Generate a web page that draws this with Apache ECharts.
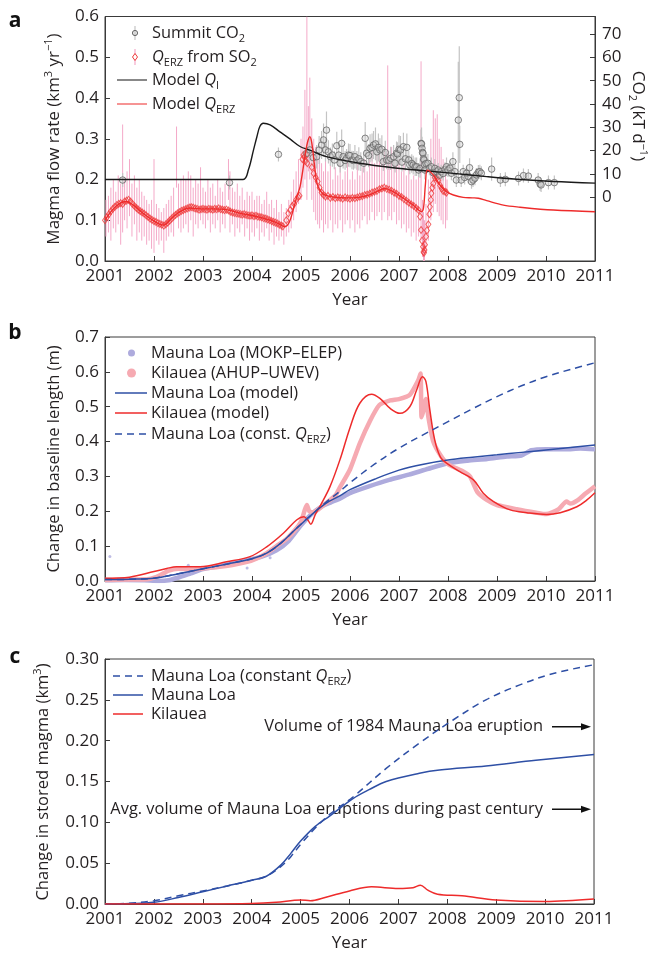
<!DOCTYPE html>
<html><head><meta charset="utf-8">
<script src="https://cdn.jsdelivr.net/npm/echarts@6/dist/echarts.min.js"></script>
<style>html,body{margin:0;padding:0;background:#fff}#c{width:654px;height:953px}</style>
</head><body><div id="c"></div><script>
// ---------- DATA ----------
const years = [2001,2002,2003,2004,2005,2006,2007,2008,2009,2010,2011];
const co2Ticks = [0,10,20,30,40,50,60,70];
// Panel a: model Q_I and Q_ERZ (km3/yr)
const modelQI = [[2001,0.2],[2003.82,0.2],[2003.93,0.225],[2004.03,0.272],[2004.1,0.305],[2004.16,0.33],[2004.23,0.338],[2004.37,0.334],[2004.57,0.317],[2004.78,0.299],[2004.98,0.281],[2005.18,0.272],[2005.52,0.256],[2006.2,0.240],[2006.88,0.229],[2007.57,0.221],[2008.11,0.215],[2008.79,0.207],[2009.47,0.200],[2010.15,0.195],[2011,0.191]];
const modelQERZ = [[2001.0,0.100],[2001.15,0.125],[2001.31,0.142],[2001.44,0.146],[2001.58,0.137],[2001.78,0.117],[2001.99,0.099],[2002.19,0.088],[2002.36,0.105],[2002.53,0.121],[2002.73,0.130],[2002.94,0.128],[2003.21,0.128],[2003.48,0.126],[2003.76,0.117],[2004.03,0.111],[2004.37,0.100],[2004.53,0.092],[2004.67,0.084],[2004.76,0.095],[2004.84,0.125],[2004.92,0.16],[2004.98,0.182],[2005.08,0.256],[2005.13,0.29],[2005.18,0.305],[2005.22,0.29],[2005.27,0.24],[2005.31,0.2],[2005.35,0.182],[2005.42,0.168],[2005.5,0.161],[2005.73,0.156],[2006.07,0.155],[2006.34,0.160],[2006.54,0.170],[2006.71,0.178],[2006.88,0.170],[2007.09,0.154],[2007.29,0.137],[2007.46,0.121],[2007.5,0.13],[2007.54,0.19],[2007.58,0.223],[2007.7,0.211],[2007.84,0.186],[2007.97,0.170],[2008.11,0.162],[2008.31,0.156],[2008.5,0.155],[2008.62,0.154],[2008.79,0.148],[2009.13,0.137],[2009.47,0.132],[2010.15,0.125],[2011.0,0.121]];
// Q_ERZ from SO2 (diamonds)
const so2Q = [[2001.00,0.100],[2001.04,0.108],[2001.08,0.115],[2001.12,0.122],[2001.16,0.128],[2001.20,0.133],[2001.24,0.137],[2001.28,0.14],[2001.32,0.142],[2001.36,0.140],[2001.40,0.146],[2001.44,0.148],[2001.48,0.150],[2001.52,0.146],[2001.56,0.140],[2001.60,0.135],[2001.64,0.130],[2001.68,0.126],[2001.72,0.122],[2001.76,0.119],[2001.80,0.116],[2001.84,0.112],[2001.88,0.108],[2001.92,0.104],[2001.96,0.101],[2002.00,0.098],[2002.04,0.096],[2002.08,0.093],[2002.12,0.091],[2002.16,0.089],[2002.20,0.087],[2002.24,0.090],[2002.28,0.094],[2002.32,0.099],[2002.36,0.104],[2002.40,0.109],[2002.44,0.113],[2002.48,0.117],[2002.52,0.120],[2002.56,0.123],[2002.60,0.125],[2002.64,0.127],[2002.68,0.129],[2002.72,0.131],[2002.76,0.132],[2002.80,0.131],[2002.84,0.129],[2002.88,0.128],[2002.92,0.126],[2002.96,0.127],[2003.00,0.128],[2003.04,0.127],[2003.08,0.126],[2003.12,0.128],[2003.16,0.127],[2003.20,0.126],[2003.24,0.128],[2003.28,0.127],[2003.32,0.129],[2003.36,0.127],[2003.40,0.126],[2003.44,0.125],[2003.48,0.126],[2003.52,0.124],[2003.56,0.121],[2003.60,0.119],[2003.64,0.118],[2003.68,0.117],[2003.72,0.116],[2003.76,0.115],[2003.80,0.114],[2003.84,0.115],[2003.88,0.113],[2003.92,0.112],[2003.96,0.111],[2004.00,0.112],[2004.04,0.110],[2004.08,0.111],[2004.12,0.109],[2004.16,0.108],[2004.20,0.107],[2004.24,0.105],[2004.28,0.104],[2004.32,0.102],[2004.36,0.100],[2004.40,0.098],[2004.44,0.096],[2004.48,0.094],[2004.52,0.092],[2004.56,0.089],[2004.60,0.087],[2004.63,0.085],[2004.70,0.100],[2004.74,0.117],[2004.78,0.125],[2004.82,0.135],[2004.86,0.140],[2004.90,0.150],[2004.94,0.157],[2004.97,0.160],[2005.03,0.250],[2005.05,0.260],[2005.07,0.255],[2005.09,0.245],[2005.11,0.260],[2005.13,0.240],[2005.22,0.230],[2005.26,0.215],[2005.30,0.205],[2005.34,0.195],[2005.38,0.180],[2005.42,0.168],[2005.46,0.162],[2005.50,0.158],[2005.55,0.160],[2005.60,0.155],[2005.65,0.157],[2005.70,0.154],[2005.75,0.156],[2005.80,0.155],[2005.85,0.153],[2005.90,0.156],[2005.95,0.154],[2006.00,0.153],[2006.05,0.155],[2006.10,0.154],[2006.15,0.156],[2006.20,0.158],[2006.25,0.159],[2006.30,0.162],[2006.35,0.163],[2006.40,0.165],[2006.45,0.168],[2006.50,0.170],[2006.55,0.172],[2006.60,0.176],[2006.65,0.178],[2006.70,0.180],[2006.75,0.177],[2006.80,0.175],[2006.85,0.172],[2006.90,0.168],[2006.95,0.165],[2007.00,0.160],[2007.05,0.157],[2007.10,0.152],[2007.15,0.148],[2007.20,0.143],[2007.25,0.139],[2007.30,0.135],[2007.35,0.130],[2007.40,0.125],[2007.43,0.109],[2007.45,0.076],[2007.47,0.050],[2007.49,0.035],[2007.50,0.022],[2007.51,0.020],[2007.52,0.027],[2007.53,0.040],[2007.55,0.060],[2007.57,0.075],[2007.60,0.090],[2007.62,0.115],[2007.63,0.133],[2007.65,0.150],[2007.66,0.166],[2007.68,0.180],[2007.70,0.190],[2007.73,0.205],[2007.77,0.203],[2007.80,0.198],[2007.84,0.185],[2007.87,0.178],[2007.90,0.172],[2007.94,0.170],[2007.97,0.168]];
// SO2-derived error bars [year, low, high]
const so2Bars = [[2001.02,0.06,0.15],[2001.07,0.07,0.16],[2001.12,0.05,0.18],[2001.17,0.08,0.2],[2001.22,0.07,0.17],[2001.27,0.09,0.21],[2001.32,0.04,0.19],[2001.36,0.07,0.335],[2001.40,0.10,0.2],[2001.45,0.08,0.22],[2001.5,0.11,0.25],[2001.55,0.06,0.19],[2001.6,0.09,0.21],[2001.65,0.05,0.18],[2001.7,0.07,0.2],[2001.75,0.05,0.17],[2001.8,0.06,0.16],[2001.85,0.04,0.15],[2001.9,0.05,0.14],[2001.95,0.03,0.15],[2002.0,0.02,0.25],[2002.05,0.05,0.14],[2002.1,0.04,0.13],[2002.15,0.05,0.12],[2002.2,0.02,0.13],[2002.25,0.05,0.14],[2002.3,0.06,0.15],[2002.35,0.07,0.16],[2002.4,0.06,0.18],[2002.46,0.18,0.33],[2002.5,0.08,0.19],[2002.55,0.07,0.2],[2002.6,0.08,0.21],[2002.65,0.09,0.2],[2002.7,0.07,0.22],[2002.75,0.1,0.21],[2002.8,0.06,0.18],[2002.85,0.09,0.2],[2002.9,0.08,0.19],[2002.95,0.1,0.23],[2003.0,0.09,0.18],[2003.05,0.08,0.17],[2003.1,0.1,0.2],[2003.15,0.07,0.18],[2003.2,0.09,0.19],[2003.25,0.08,0.16],[2003.3,0.1,0.2],[2003.35,0.07,0.18],[2003.4,0.09,0.17],[2003.45,0.08,0.19],[2003.52,0.15,0.25],[2003.55,0.07,0.22],[2003.6,0.09,0.18],[2003.65,0.06,0.17],[2003.7,0.08,0.19],[2003.75,0.07,0.16],[2003.8,0.09,0.18],[2003.85,0.06,0.15],[2003.9,0.08,0.17],[2003.95,0.05,0.16],[2004.0,0.07,0.17],[2004.05,0.06,0.15],[2004.1,0.08,0.16],[2004.15,0.05,0.16],[2004.2,0.07,0.14],[2004.25,0.06,0.15],[2004.3,0.08,0.17],[2004.35,0.05,0.14],[2004.4,0.07,0.15],[2004.45,0.04,0.13],[2004.5,0.06,0.15],[2004.55,0.05,0.12],[2004.6,0.06,0.14],[2004.65,0.04,0.12],[2004.7,0.06,0.13],[2004.75,0.07,0.15],[2004.8,0.08,0.17],[2004.85,0.1,0.2],[2004.9,0.12,0.22],[2004.95,0.14,0.25],[2005.0,0.15,0.3],[2005.04,0.18,0.33],[2005.08,0.2,0.42],[2005.12,0.15,0.6],[2005.15,0.22,0.38],[2005.18,0.2,0.45],[2005.22,0.15,0.35],[2005.26,0.12,0.3],[2005.3,0.1,0.28],[2005.34,0.09,0.26],[2005.38,0.08,0.25],[2005.42,0.1,0.24],[2005.46,0.07,0.22],[2005.5,0.09,0.26],[2005.55,0.08,0.22],[2005.6,0.1,0.25],[2005.65,0.07,0.2],[2005.7,0.09,0.23],[2005.75,0.08,0.21],[2005.8,0.1,0.24],[2005.85,0.07,0.2],[2005.9,0.09,0.22],[2005.95,0.1,0.25],[2006.0,0.08,0.2],[2006.05,0.1,0.22],[2006.1,0.07,0.2],[2006.15,0.09,0.24],[2006.2,0.08,0.21],[2006.25,0.1,0.23],[2006.3,0.11,0.25],[2006.35,0.09,0.22],[2006.4,0.1,0.25],[2006.45,0.12,0.27],[2006.5,0.1,0.24],[2006.55,0.11,0.26],[2006.6,0.12,0.28],[2006.65,0.1,0.25],[2006.7,0.12,0.27],[2006.77,0.1,0.48],[2006.8,0.11,0.26],[2006.85,0.1,0.28],[2006.9,0.12,0.26],[2006.95,0.09,0.24],[2007.0,0.1,0.25],[2007.05,0.08,0.22],[2007.1,0.09,0.24],[2007.15,0.07,0.21],[2007.2,0.08,0.23],[2007.25,0.06,0.2],[2007.3,0.07,0.21],[2007.35,0.05,0.2],[2007.4,0.06,0.22],[2007.45,0.05,0.49],[2007.48,0.01,0.15],[2007.5,0.0,0.12],[2007.52,0.0,0.1],[2007.55,0.02,0.14],[2007.6,0.05,0.2],[2007.65,0.1,0.3],[2007.7,0.12,0.37],[2007.74,0.14,0.35],[2007.78,0.12,0.36],[2007.82,0.11,0.3],[2007.86,0.1,0.28],[2007.9,0.09,0.25],[2007.95,0.08,0.22],[2007.98,0.1,0.2]];
// Summit CO2 (kT/d): [year, value, error half-width]
const co2 = [[2001.36,7.4,3],[2003.54,6.3,3],[2004.54,18.4,3],[2005.12,18.9,4],[2005.18,20.3,5],[2005.25,17.0,4],[2005.32,17.4,5],[2005.37,20.3,6],[2005.42,22.4,6],[2005.46,24.6,7],[2005.5,20.3,5],[2005.52,28.8,8],[2005.56,19.5,5],[2005.6,17.4,4],[2005.64,18.1,5],[2005.68,16.0,4],[2005.73,22.1,6],[2005.77,18.1,5],[2005.8,14.6,4],[2005.83,23.1,6],[2005.86,17.4,5],[2005.9,15.8,4],[2005.93,16.7,4],[2005.97,18.1,5],[2006.0,17.9,5],[2006.04,16.0,4],[2006.07,15.8,4],[2006.1,17.4,5],[2006.14,15.8,4],[2006.18,16.5,5],[2006.22,15.3,4],[2006.28,14.6,4],[2006.31,25.3,7],[2006.34,18.9,5],[2006.38,17.9,5],[2006.41,21.0,6],[2006.45,21.4,6],[2006.48,22.4,6],[2006.52,22.9,7],[2006.55,19.5,5],[2006.58,21.4,6],[2006.61,20.3,5],[2006.65,20.6,6],[2006.68,15.3,4],[2006.72,19.2,5],[2006.75,16.0,4],[2006.79,15.8,4],[2006.83,16.7,5],[2006.89,17.4,5],[2006.92,14.6,4],[2006.95,18.9,5],[2006.97,18.6,5],[2007.0,20.6,6],[2007.03,20.3,6],[2007.06,15.1,4],[2007.09,21.7,6],[2007.13,16.5,5],[2007.16,21.4,6],[2007.2,16.0,4],[2007.22,13.9,4],[2007.26,14.5,4],[2007.29,13.8,4],[2007.33,13.1,4],[2007.36,13.1,4],[2007.4,11.7,3],[2007.43,12.4,4],[2007.45,23.1,6],[2007.46,22.9,7],[2007.47,21.0,5],[2007.48,19.2,5],[2007.49,18.9,5],[2007.5,16.5,5],[2007.51,16.0,4],[2007.52,13.9,4],[2007.53,11.7,4],[2007.55,14.5,4],[2007.59,14.6,4],[2007.62,12.5,3],[2007.66,13.1,4],[2007.7,10.5,3],[2007.73,12.4,4],[2007.77,11.0,3],[2007.8,11.7,3],[2007.83,9.5,3],[2007.86,11.0,3],[2007.9,10.2,3],[2007.94,12.0,3],[2007.97,13.1,4],[2008.0,11.7,3],[2008.04,12.5,3],[2008.07,10.3,3],[2008.1,15.3,4],[2008.14,11.0,3],[2008.17,7.4,3],[2008.21,33.1,25],[2008.23,42.7,22],[2008.24,22.7,8],[2008.27,7.4,3],[2008.31,11.0,3],[2008.34,8.5,3],[2008.38,10.3,3],[2008.41,9.0,3],[2008.44,12.7,4],[2008.48,6.7,3],[2008.51,7.4,3],[2008.55,8.2,3],[2008.58,9.6,3],[2008.62,10.8,3],[2008.65,11.0,3],[2008.68,10.3,3],[2008.89,12.1,5],[2009.07,7.4,3],[2009.17,7.7,3],[2009.44,8.1,3],[2009.54,9.3,3],[2009.64,9.1,3],[2009.84,7.4,3],[2009.88,5.7,3],[2009.9,5.3,3],[2010.05,6.3,3],[2010.17,6.3,3]];
// Panel b: baseline length change (m)
const mlData = [[2001.0,0.002],[2001.4,0.003],[2001.8,0.002],[2002.1,0.0],[2002.3,0.002],[2002.5,0.01],[2002.75,0.022],[2003.0,0.034],[2003.3,0.042],[2003.6,0.05],[2003.9,0.06],[2004.2,0.07],[2004.5,0.088],[2004.75,0.115],[2005.0,0.16],[2005.2,0.19],[2005.4,0.212],[2005.6,0.225],[2005.8,0.237],[2006.0,0.252],[2006.4,0.272],[2006.8,0.29],[2007.2,0.305],[2007.6,0.322],[2008.0,0.338],[2008.4,0.345],[2008.8,0.35],[2009.2,0.357],[2009.5,0.36],[2009.7,0.375],[2010.0,0.378],[2010.4,0.378],[2010.7,0.38],[2011.0,0.378]];
const mlOutliers = [[2001.1,0.07],[2003.9,0.037],[2004.37,0.067],[2002.7,0.045]];
const kiData = [[2001.0,0.003],[2001.5,0.004],[2001.9,0.006],[2002.1,0.015],[2002.3,0.03],[2002.5,0.035],[2002.8,0.033],[2003.0,0.036],[2003.3,0.04],[2003.6,0.046],[2003.9,0.055],[2004.1,0.065],[2004.3,0.08],[2004.5,0.1],[2004.7,0.12],[2004.9,0.15],[2005.0,0.17],[2005.08,0.205],[2005.12,0.218],[2005.17,0.2],[2005.25,0.197],[2005.35,0.205],[2005.5,0.222],[2005.7,0.245],[2005.8,0.27],[2006.0,0.32],[2006.2,0.395],[2006.41,0.46],[2006.6,0.505],[2006.82,0.518],[2007.0,0.522],[2007.22,0.534],[2007.39,0.575],[2007.44,0.595],[2007.46,0.47],[2007.5,0.49],[2007.55,0.522],[2007.6,0.47],[2007.7,0.4],[2007.85,0.36],[2008.0,0.335],[2008.3,0.315],[2008.45,0.3],[2008.6,0.255],[2008.8,0.232],[2009.0,0.218],[2009.4,0.206],[2009.8,0.196],[2010.0,0.192],[2010.25,0.205],[2010.42,0.228],[2010.5,0.222],[2010.65,0.232],[2010.8,0.25],[2011.0,0.272]];
const mlModel = [[2001,0.004],[2001.5,0.005],[2002,0.008],[2002.5,0.021],[2003,0.035],[2003.5,0.049],[2004,0.064],[2004.3,0.08],[2004.6,0.11],[2004.9,0.15],[2005.2,0.188],[2005.5,0.222],[2005.8,0.245],[2006.0,0.262],[2006.5,0.292],[2007.0,0.318],[2007.5,0.335],[2008,0.347],[2008.5,0.355],[2009,0.362],[2009.5,0.369],[2010,0.376],[2010.5,0.383],[2011,0.39]];
const kiModel = [[2001,0.008],[2001.5,0.011],[2002,0.027],[2002.26,0.036],[2002.46,0.041],[2002.94,0.041],[2003.48,0.055],[2003.96,0.07],[2004.3,0.098],[2004.64,0.137],[2004.91,0.175],[2005.06,0.184],[2005.14,0.175],[2005.2,0.163],[2005.29,0.19],[2005.39,0.215],[2005.59,0.27],[2005.8,0.35],[2006.0,0.44],[2006.2,0.51],[2006.44,0.536],[2006.61,0.524],[2006.82,0.495],[2007.02,0.481],[2007.22,0.50],[2007.36,0.548],[2007.48,0.586],[2007.55,0.572],[2007.63,0.49],[2007.73,0.404],[2007.84,0.357],[2007.97,0.338],[2008.24,0.314],[2008.52,0.29],[2008.72,0.252],[2008.93,0.228],[2009.27,0.204],[2009.61,0.196],[2010.01,0.191],[2010.29,0.196],[2010.63,0.213],[2010.83,0.232],[2011,0.253]];
const mlConst = [[2001,0.004],[2001.5,0.005],[2002,0.008],[2002.5,0.021],[2003,0.035],[2003.5,0.049],[2004,0.064],[2004.3,0.08],[2004.6,0.11],[2004.9,0.15],[2005.2,0.188],[2005.5,0.225],[2005.8,0.258],[2006,0.282],[2006.5,0.335],[2007,0.381],[2007.5,0.42],[2008,0.457],[2008.5,0.494],[2009,0.529],[2009.5,0.56],[2010,0.586],[2010.5,0.607],[2011,0.626]];
// Panel c: change in stored magma (km3)
const mlStored = [[2001,0],[2001.5,0.0005],[2002,0.002],[2002.5,0.008],[2003,0.015],[2003.5,0.022],[2004,0.029],[2004.3,0.034],[2004.6,0.048],[2004.8,0.062],[2005,0.077],[2005.3,0.095],[2005.6,0.108],[2006.07,0.129],[2006.4,0.14],[2006.75,0.150],[2007.43,0.160],[2007.84,0.164],[2008.79,0.169],[2009.81,0.176],[2011,0.183]];
const mlStoredConst = [[2001,0],[2001.5,0.001],[2002,0.004],[2002.5,0.01],[2003,0.016],[2003.5,0.022],[2004,0.029],[2004.3,0.034],[2004.6,0.046],[2004.8,0.058],[2005,0.073],[2005.3,0.093],[2005.6,0.11],[2006.07,0.131],[2006.75,0.166],[2007.43,0.197],[2008.11,0.225],[2008.79,0.25],[2009.47,0.268],[2010.15,0.282],[2011,0.293]];
const kiStored = [[2001,0],[2003,0],[2004,0.0005],[2004.5,0.002],[2005,0.005],[2005.2,0.004],[2005.5,0.008],[2006,0.016],[2006.45,0.021],[2007,0.019],[2007.3,0.02],[2007.45,0.023],[2007.6,0.017],[2007.8,0.012],[2008.3,0.01],[2009,0.005],[2010,0.003],[2011,0.006]];
const volumeMarks = [0.217, 0.116];
const volumeTexts = ['Volume of 1984 Mauna Loa eruption','Avg. volume of Mauna Loa eruptions during past century'];

// ---------- STYLE ----------
const FONT = 'Open Sans';
const TXT = '#231f20';
const AX = '#3a3a3a';
const RED = '#ee2b2b', BLUE = '#2e4fa5', PINK = '#f4a9c8', GREY = '#666';
const FS = 17;     // tick labels
const LS = 16.4;   // legend / annotation text
const rich = {
  i: {fontStyle:'italic', fontSize:LS, fontFamily:FONT, fill:TXT, color:TXT},
  sub: {fontSize:11, fontFamily:FONT, verticalAlign:'bottom', fill:TXT, color:TXT},
  sup: {fontSize:11, fontFamily:FONT, verticalAlign:'top', fill:TXT, color:TXT}
};
const grids = [
  {left:105, top:16.5, width:490, height:244.5},
  {left:105, top:337, width:490, height:244},
  {left:105, top:659, width:489, height:245}
];
function xAx(gi){
  return {type:'value', gridIndex:gi, min:2001, max:2011, interval:1,
    axisLine:{onZero:false, lineStyle:{color:AX}}, axisTick:{inside:true, length:5, lineStyle:{color:AX}},
    axisLabel:{color:TXT, fontSize:FS, fontFamily:FONT, margin:7, formatter:v=>String(v)},
    splitLine:{show:false},
    name:'Year', nameLocation:'middle', nameGap:31, nameTextStyle:{color:TXT, fontSize:FS, fontFamily:FONT}};
}
function yAx(gi, max, interval, dec){
  return {type:'value', gridIndex:gi, min:0, max:max, interval:interval,
    axisLine:{onZero:false, lineStyle:{color:AX}}, axisTick:{inside:true, length:5, lineStyle:{color:AX}},
    axisLabel:{color:TXT, fontSize:FS, fontFamily:FONT, margin:6, formatter:v=>v.toFixed(dec)},
    splitLine:{show:false}};
}
const yAxes = [yAx(0,0.6,0.1,1),
  {type:'value', gridIndex:0, position:'right', min:-27.3, max:77.5,
   axisLine:{onZero:false, lineStyle:{color:AX}}, axisTick:{inside:true, length:5, lineStyle:{color:AX}, customValues:co2Ticks},
   axisLabel:{color:TXT, fontSize:FS, fontFamily:FONT, margin:7, customValues:co2Ticks}, splitLine:{show:false}},
  yAx(1,0.7,0.1,1), yAx(2,0.3,0.05,2)];

function barSeries(data, xi, yi, color, w, mode){
  return {type:'custom', xAxisIndex:xi, yAxisIndex:yi, data:data, silent:true, clip:true,
    renderItem:(p,api)=>{
      const x=api.value(0);
      let lo, hi;
      if(mode==='err'){ lo=api.value(1)-api.value(2); hi=api.value(1)+api.value(2);} else { lo=api.value(1); hi=api.value(2);}
      const a=api.coord([x,lo]), b=api.coord([x,hi]);
      return {type:'line', shape:{x1:a[0],y1:a[1],x2:b[0],y2:b[1]}, style:{stroke:color, lineWidth:w}};
    }};
}
function lineS(data, xi, yi, color, w, dashed, smooth){
  return {type:'line', xAxisIndex:xi, yAxisIndex:yi, data:data, showSymbol:false, silent:true,
    smooth: smooth===undefined?0.35:smooth, lineStyle:{color:color, width:w, type: dashed?[7,5]:'solid'}, itemStyle:{color:color}};
}

const series = [
  barSeries(so2Bars,0,0,PINK,1,'range'),
  barSeries(co2,0,1,'#c4c4c4',1.2,'err'),
  lineS(modelQI,0,0,'#1a1a1a',1.4),
  {type:'scatter', xAxisIndex:0, yAxisIndex:0, data:so2Q, symbol:'diamond', symbolSize:[5,7], silent:true,
    itemStyle:{color:'rgba(255,255,255,0)', borderColor:'#ef3b3b', borderWidth:1}},
  lineS(modelQERZ,0,0,RED,1.4),
  {type:'scatter', xAxisIndex:0, yAxisIndex:1, data:co2.map(d=>[d[0],d[1]]), symbol:'circle', symbolSize:6.5, silent:true,
    itemStyle:{color:'rgba(205,205,205,0.5)', borderColor:GREY, borderWidth:1}},
  // panel b
  lineS(mlData,1,2,'#aeabdd',4.5,false,0.2),
  {type:'scatter', xAxisIndex:1, yAxisIndex:2, data:mlOutliers, symbolSize:3, silent:true, itemStyle:{color:'#aeabdd'}},
  lineS(kiData,1,2,'#f6aab2',4.5,false,0.2),
  lineS(mlModel,1,2,BLUE,1.5),
  lineS(kiModel,1,2,RED,1.5),
  lineS(mlConst,1,2,BLUE,1.5,true),
  // panel c
  lineS(mlStoredConst,2,3,BLUE,1.5,true),
  lineS(mlStored,2,3,BLUE,1.5),
  lineS(kiStored,2,3,RED,1.5)
];

const chart = echarts.init(document.getElementById('c'), null, {renderer:'canvas'});

function txt(x,y,text,extra){
  return Object.assign({type:'text', x:x, y:y, silent:true,
    style:Object.assign({text:text, fontSize:LS, fontFamily:FONT, fill:TXT, align:'left', verticalAlign:'middle', lineHeight:22, rich:rich}, (extra||{}))});
}
function seg(x1,x2,y,color,dashed,w){
  return {type:'line', silent:true, shape:{x1:x1,y1:y,x2:x2,y2:y}, style:{stroke:color, lineWidth:w||1.5, lineDash: dashed?[7,5]:null}};
}
const g = [];
// panel letters
g.push({type:'text', x:15, y:21, silent:true, style:{text:'a', fontSize:21, fontWeight:'bold', fontFamily:FONT, fill:'#111', align:'center', verticalAlign:'middle'}});
g.push({type:'text', x:15, y:333, silent:true, style:{text:'b', fontSize:21, fontWeight:'bold', fontFamily:FONT, fill:'#111', align:'center', verticalAlign:'middle'}});
g.push({type:'text', x:15, y:657, silent:true, style:{text:'c', fontSize:21, fontWeight:'bold', fontFamily:FONT, fill:'#111', align:'center', verticalAlign:'middle'}});
// axis names
g.push(Object.assign(txt(54,139,'Magma flow rate (km{sup|3} yr{sup|−1})',{align:'center', fontSize:17}),{rotation:Math.PI/2}));
g.push(Object.assign(txt(638,116,'CO{sub|2} (kT d{sup|−1})',{align:'center', fontSize:17}),{rotation:-Math.PI/2}));
g.push(Object.assign(txt(54,459,'Change in baseline length (m)',{align:'center', fontSize:16.5}),{rotation:Math.PI/2}));
g.push(Object.assign(txt(43,782,'Change in stored magma (km{sup|3})',{align:'center', fontSize:16.5}),{rotation:Math.PI/2}));
// legend a
g.push({type:'line', silent:true, shape:{x1:135,y1:26,x2:135,y2:40}, style:{stroke:'#c4c4c4', lineWidth:1.2}});
g.push({type:'circle', silent:true, shape:{cx:135,cy:33,r:2.6}, style:{fill:'rgba(205,205,205,0.5)', stroke:GREY, lineWidth:1}});
g.push({type:'line', silent:true, shape:{x1:135,y1:49,x2:135,y2:65}, style:{stroke:PINK, lineWidth:1.2}});
g.push({type:'polygon', silent:true, shape:{points:[[135,53.5],[137.5,57],[135,60.5],[132.5,57]]}, style:{fill:'#fff', stroke:'#ef3b3b', lineWidth:1}});
g.push(seg(117,147,80,'#555',false,1.4));
g.push(seg(117,147,104,'#f47a7a',false,1.6));
g.push(txt(152,33,'Summit CO{sub|2}'));
g.push(txt(152,57,'{i|Q}{sub|ERZ} from SO{sub|2}'));
g.push(txt(152,80,'Model {i|Q}{sub|I}'));
g.push(txt(152,104,'Model {i|Q}{sub|ERZ}'));
// legend b
g.push({type:'circle', silent:true, shape:{cx:131.5,cy:353,r:3.5}, style:{fill:'#aeabdd'}});
g.push({type:'circle', silent:true, shape:{cx:131.5,cy:373,r:4.5}, style:{fill:'#f6aab2'}});
g.push(seg(115,147,393,BLUE));
g.push(seg(115,147,413,RED));
g.push(seg(115,147,434,BLUE,true));
g.push(txt(151,353,'Mauna Loa (MOKP–ELEP)'));
g.push(txt(151,373,'Kilauea (AHUP–UWEV)'));
g.push(txt(151,393,'Mauna Loa (model)'));
g.push(txt(151,413,'Kilauea (model)'));
g.push(txt(151,434,'Mauna Loa (const. {i|Q}{sub|ERZ})'));
// legend c
g.push(seg(113,143,676,BLUE,true));
g.push(seg(113,143,695,BLUE));
g.push(seg(113,143,714,RED));
g.push(txt(151,676,'Mauna Loa (constant {i|Q}{sub|ERZ})'));
g.push(txt(151,695,'Mauna Loa'));
g.push(txt(151,714,'Kilauea'));

chart.setOption({
  animation:false, backgroundColor:'#fff',
  grid: grids.map(gr=>Object.assign({show:true, borderColor:AX, borderWidth:1, backgroundColor:'transparent', containLabel:false}, gr)),
  xAxis:[xAx(0),xAx(1),xAx(2)],
  yAxis:yAxes,
  series:series,
  graphic:g
});
// annotation arrows in panel c positioned through the axis scale
const g2 = g.slice();
volumeMarks.forEach((v,i)=>{
  const p = chart.convertToPixel({xAxisIndex:2, yAxisIndex:3},[2011, v]);
  const y = p[1];
  g2.push(txt(545, y, volumeTexts[i], {align:'right', backgroundColor:'#fff', padding:[0,2,0,2], lineHeight:18}));
  g2.push({type:'line', silent:true, shape:{x1:552,y1:y,x2:586,y2:y}, style:{stroke:'#111', lineWidth:1.5}});
  g2.push({type:'polygon', silent:true, shape:{points:[[591,y],[581,y-3.5],[581,y+3.5]]}, style:{fill:'#111'}});
});
chart.setOption({graphic:g2}, {replaceMerge:['graphic']});
</script></body></html>
